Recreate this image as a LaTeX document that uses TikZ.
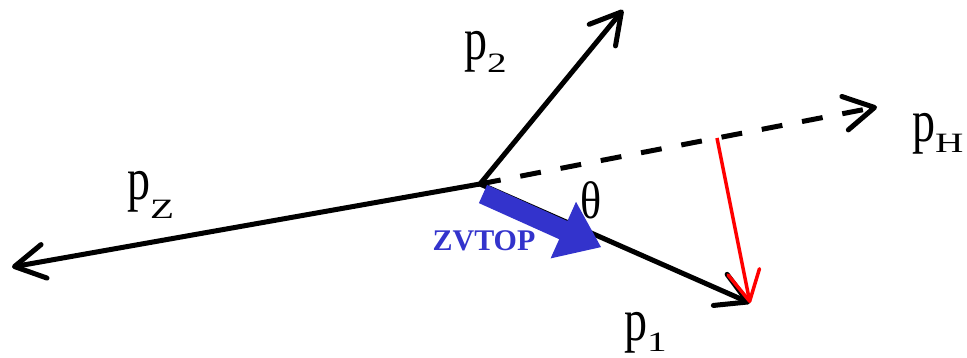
\documentclass[tikz,border=0pt]{standalone}
\usepackage{fontspec}
\setmainfont{Liberation Serif}
\usepackage{graphicx}
\usetikzlibrary{arrows.meta}
\definecolor{zvblue}{RGB}{51,51,204}
\newcommand{\plab}[2]{{\fontsize{46}{46}\selectfont\scalebox{1}[1.3]{p}}\raisebox{#2}{\fontsize{28}{28}\selectfont\scalebox{1.4}[1]{#1}}}
\begin{document}
\begin{tikzpicture}[x=1pt,y=-1pt,
  vec/.style={line width=5pt,-{Straight Barb[length=30pt,width=34pt,round]}},
  redvec/.style={red,line width=3.5pt,-{Straight Barb[length=30pt,width=32pt,round]}},
  lab/.style={inner sep=0pt,anchor=base west}]
\useasboundingbox (0,0) rectangle (967,358);
\coordinate (O) at (480,184);
\coordinate (P1) at (750,303);
\coordinate (P2) at (623,10);
\coordinate (PH) at (877,107);
\coordinate (PZ) at (12,267);
\coordinate (Rs) at (717,138);
% momentum vectors
\draw[vec] (O) -- (P1);
\draw[vec] (O) -- (P2);
\draw[vec] (O) -- (PZ);
\draw[vec,dashed,dash pattern=on 21pt off 20pt] (O) -- (PH);
\draw[redvec] (Rs) -- (P1);
% ZVTOP arrow
\fill[zvblue] (487.1,184.9) -- (567.4,221.0) -- (576.0,201.8) -- (601.0,247.1)
  -- (550.6,258.4) -- (559.2,239.2) -- (478.9,203.1) -- cycle;
% labels
\node[lab] (l2) at (464,60) {\plab{2}{-13pt}};
\node[lab] (lH) at (912,142) {\plab{H}{-11pt}};
\node[lab] (lZ) at (127,200) {\plab{Z}{-19pt}};
\node[lab] (l1) at (624,340) {\plab{1}{-11pt}};
\node[inner sep=0pt] (th) at (591,200) {\fontsize{44}{44}\selectfont\scalebox{1}[1.2]{θ}};
\node[inner sep=0pt,text=zvblue,font=\bfseries\fontsize{30}{30}\selectfont] (zv) at (484,241) {ZVTOP};
\end{tikzpicture}
\end{document}
